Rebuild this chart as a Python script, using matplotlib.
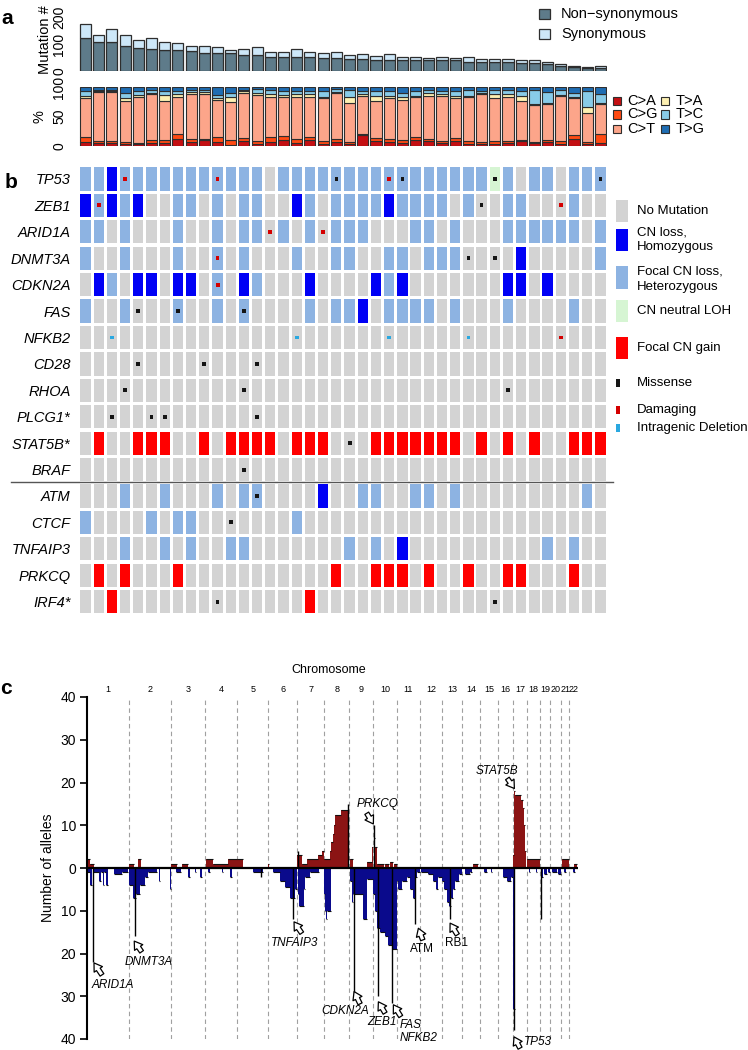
import matplotlib
matplotlib.use('Agg')
import matplotlib.pyplot as plt
from matplotlib.patches import Rectangle
from matplotlib.lines import Line2D
import numpy as np

plt.rcParams['font.family'] = ['Liberation Sans', 'DejaVu Sans']

# ---------------- DATA ----------------
# panel a: mutation counts per sample
nonsyn = [124, 106, 106, 92, 84, 82, 78, 77, 75, 68, 66, 65, 61, 58, 52, 52, 52, 51, 48, 48,
          46, 46, 41, 41, 39, 41, 41, 39, 39, 35, 35, 34, 34, 31, 29, 26, 20, 14, 11, 12]
syn = [50, 29, 48, 40, 32, 42, 29, 25, 19, 26, 23, 12, 21, 31, 18, 18, 28, 19, 18, 22,
       14, 16, 14, 21, 12, 10, 6, 14, 8, 18, 10, 9, 9, 10, 10, 9, 6, 6, 3, 5]

# panel a: substitution spectrum (%)
spec_labels = ['C>A', 'C>G', 'C>T', 'T>A', 'T>C', 'T>G']
pct_CA = [7, 5, 5, 3, 3, 5, 5, 12, 6, 10, 6, 1, 9, 4, 6, 10, 5, 10, 4, 7,
          3, 18, 8, 6, 5, 10, 8, 5, 8, 4, 4, 4, 5, 8, 5, 6, 3, 12, 3, 5]
pct_CG = [8, 4, 4, 3, 2, 5, 5, 9, 6, 2, 10, 9, 4, 5, 10, 7, 7, 6, 5, 5,
          3, 3, 6, 6, 5, 5, 4, 3, 5, 4, 2, 4, 3, 3, 1, 5, 6, 7, 4, 15]
pct_CT = [66, 83, 83, 71, 78, 78, 67, 63, 76, 76, 62, 65, 77, 78, 68, 66, 72, 67, 72, 78,
          67, 64, 62, 69, 69, 68, 74, 77, 68, 75, 82, 74, 76, 65, 64, 60, 76, 62, 50, 52]
pct_TA = [4, 2, 2, 5, 4, 2, 10, 4, 4, 4, 3, 8, 3, 3, 5, 4, 5, 5, 2, 2,
          10, 4, 10, 5, 4, 2, 4, 3, 4, 3, 3, 6, 4, 10, 1, 3, 2, 2, 10, 2]
pct_TC = [9, 2, 2, 9, 7, 5, 7, 5, 4, 4, 6, 7, 3, 7, 6, 7, 5, 6, 11, 5,
          12, 5, 7, 7, 8, 8, 6, 6, 9, 10, 3, 7, 7, 7, 25, 18, 9, 8, 27, 15]
pct_TG = [6, 4, 4, 9, 6, 5, 6, 7, 4, 4, 13, 10, 4, 3, 5, 6, 6, 6, 6, 3,
          5, 6, 7, 7, 9, 7, 4, 6, 6, 4, 6, 5, 5, 7, 4, 8, 4, 9, 6, 11]

# panel b: genes and alteration states
genes = ['TP53', 'ZEB1', 'ARID1A', 'DNMT3A', 'CDKN2A', 'FAS', 'NFKB2', 'CD28', 'RHOA',
         'PLCG1*', 'STAT5B*', 'BRAF', 'ATM', 'CTCF', 'TNFAIP3', 'PRKCQ', 'IRF4*']
# '.' no mutation, 'H' homozygous loss, 'h' heterozygous loss, 'L' CN neutral LOH, 'G' gain
cn_state = [
    "hhHhhhhhhhhhhh.hhhhhhhhhhhhhhhhLh.hh.hhh",   # TP53
    "HhHhH..hh.h.hh..Hh.hhhhHhhhh.h..hh...h..",   # ZEB1
    "hh.h...h..h.hh.h.h.hhh...hh.h...hhhhhh.h",   # ARID1A
    "h..h...h..h.h...h..hh..hh.hhh....H.....h",   # DNMT3A
    ".Hh.HH.HH.h.Hh...H....HhH.......HH.H....",   # CDKN2A
    "h..h...h..h.h....h.hhH.hhhh.h...h....h..",   # FAS
    "........................................",   # NFKB2
    "........................................",   # CD28
    "........................................",   # RHOA
    "........................................",   # PLCG1*
    ".G..GGG..G.GGGG.GGG...GGGGGGG.G.G.G..GGG",   # STAT5B*
    "........................................",   # BRAF
    "...h..h...h.hh....H..hh..hh.h.........h.",   # ATM
    "h....h.hh.......h.......................",   # CTCF
    "...h..h.h..hh.......h.h.H..........h.h..",   # TNFAIP3
    ".G.G...G...........G..GGG.G..G..GG...G..",   # PRKCQ
    "..G..............G......................",   # IRF4*
]
# mutation marks: 'm' missense, 'd' damaging, 'i' intragenic deletion
mut_state = {
    'TP53': {3: 'd', 10: 'd', 19: 'm', 23: 'd', 24: 'm', 31: 'm', 39: 'm'},
    'ZEB1': {1: 'd', 30: 'm', 36: 'd'},
    'ARID1A': {14: 'd', 18: 'd'},
    'DNMT3A': {10: 'd', 29: 'm', 31: 'm'},
    'CDKN2A': {10: 'd'},
    'FAS': {4: 'm', 7: 'm', 12: 'm'},
    'NFKB2': {2: 'i', 16: 'i', 23: 'i', 29: 'i', 36: 'd'},
    'CD28': {4: 'm', 9: 'm', 13: 'm'},
    'RHOA': {3: 'm', 12: 'm', 32: 'm'},
    'PLCG1*': {2: 'm', 5: 'm', 6: 'm', 13: 'm'},
    'STAT5B*': {20: 'm'},
    'BRAF': {12: 'm'},
    'ATM': {13: 'm'},
    'CTCF': {11: 'm'},
    'IRF4*': {10: 'm', 31: 'm'},
}

# panel c: chromosome lengths (Mb) and CN segments (chrom, start Mb, end Mb, alleles)
chrom_len = [249, 243, 198, 191, 181, 171, 159, 146, 141, 136, 135, 134, 115, 107, 103,
             90, 81, 78, 59, 63, 48, 51]
gain_segs = [
    (1, 0, 20, 2), (1, 20, 40, 1),
    (2, 0, 26, 1), (2, 52, 66, 2),
    (3, 0, 34, 1), (3, 63, 102, 1),
    (4, 8, 51, 2), (4, 51, 139, 1), (4, 139, 188, 2),
    (5, 0, 36, 2),
    (6, 0, 3, 1),
    (7, 0, 3, 3), (7, 5, 26, 3), (7, 26, 56, 1), (7, 56, 124, 2),
    (7, 124, 144, 3), (7, 144, 159, 4),
    (8, 0, 33, 2), (8, 33, 40, 4), (8, 40, 48, 6), (8, 48, 55, 8), (8, 55, 62, 10),
    (8, 62, 96, 12.5), (8, 96, 138, 13.5), (8, 141, 146, 2),
    (9, 3, 20, 2), (9, 102, 131, 1.5), (9, 131, 141, 5),
    (10, 3, 8, 7), (10, 8, 23, 5), (10, 23, 60, 1), (10, 70, 90, 1),
    (10, 100, 115, 1.5), (10, 120, 136, 1),
    (14, 67, 96, 1),
    (17, 0, 3, 3), (17, 3, 8, 18), (17, 8, 48, 17), (17, 48, 55, 16), (17, 55, 62, 14),
    (17, 62, 68, 10), (17, 68, 75, 4),
    (18, 0, 78, 2),
    (21, 5, 45, 2),
    (22, 26, 45, 1),
]
loss_segs = [
    (1, 0, 15, 1), (1, 15, 30, 4), (1, 34, 72, 1), (1, 72, 84, 3), (1, 84, 92, 1),
    (1, 92, 102, 4), (1, 102, 112, 1), (1, 112, 125, 4), (1, 160, 205, 1.5), (1, 205, 240, 1),
    (2, 0, 22, 4), (2, 22, 41, 7), (2, 41, 61, 6), (2, 61, 91, 4), (2, 91, 110, 2),
    (2, 110, 159, 1), (2, 175, 180, 3), (2, 238, 243, 5),
    (3, 30, 60, 1), (3, 100, 110, 2), (3, 140, 150, 1), (3, 170, 180, 2),
    (4, 20, 30, 1), (4, 100, 110, 1), (4, 150, 160, 2),
    (5, 94, 152, 1),
    (6, 30, 70, 1), (6, 70, 100, 3), (6, 100, 129, 4.5), (6, 129, 158, 7), (6, 158, 171, 5),
    (7, 3, 10, 6), (7, 10, 40, 9), (7, 40, 46, 5), (7, 46, 75, 2), (7, 75, 130, 1),
    (8, 0, 4, 6), (8, 4, 12, 10), (8, 12, 16, 12), (8, 16, 37, 10),
    (9, 3, 15, 3), (9, 15, 24, 8), (9, 24, 83, 6), (9, 83, 102, 12), (9, 102, 141, 2.5),
    (10, 0, 10, 6), (10, 10, 20, 10), (10, 20, 40, 14), (10, 40, 68, 15), (10, 68, 88, 16),
    (10, 88, 108, 18), (10, 108, 136, 19),
    (11, 0, 10, 3), (11, 10, 30, 5), (11, 30, 60, 3), (11, 60, 80, 2), (11, 80, 95, 5),
    (11, 95, 106, 7), (11, 106, 108, 7), (11, 108, 120, 2), (11, 120, 135, 1),
    (12, 10, 50, 1), (12, 50, 80, 1.5), (12, 80, 95, 3), (12, 95, 108, 5), (12, 108, 130, 2),
    (13, 0, 10, 3), (13, 10, 25, 5), (13, 25, 40, 8), (13, 40, 48, 9), (13, 48, 60, 7),
    (13, 60, 75, 5), (13, 75, 95, 3), (13, 95, 115, 1.5),
    (14, 18, 45, 1.5), (14, 45, 60, 1),
    (15, 20, 40, 1), (15, 60, 70, 1),
    (16, 30, 55, 2), (16, 55, 80, 3), (16, 80, 90, 2),
    (17, 0, 8, 33), (17, 8, 12, 3),
    (18, 10, 20, 1), (18, 50, 60, 1),
    (19, 5, 15, 2), (19, 20, 40, 1.5), (19, 45, 59, 1),
    (20, 10, 40, 1), (20, 45, 60, 1.5),
    (21, 15, 30, 1),
    (22, 20, 35, 1),
]
# focal peaks drawn as thin lines: (chrom, Mb, alleles; negative = loss)
spikes = [
    (7, 4, 4), (8, 140, 15), (10, 1.5, 10),
    (1, 33, -22), (2, 31, -16), (5, 141, -2), (6, 144, -12), (9, 28, -30),
    (10, 30, -30), (10, 108, -31.5), (11, 107, -13), (13, 47, -12), (17, 6, -38),
    (19, 2, -12),
]
# annotated genes: label, chrom, Mb, tip value, tail offset px, label offset px, ha, italic
annots = [
    ("ARID1A", 1, 41, -22.2, (8, -12), (19, -22), 'center', True),
    ("DNMT3A", 2, 28, -17.1, (7.4, -10.7), (14.7, -21), 'center', True),
    ("TNFAIP3", 6, 152, -12.6, (7.7, -11.3), (1, -21.3), 'center', True),
    ("CDKN2A", 9, 28, -28.9, (6, -12.3), (-9, -19.3), 'center', True),
    ("ZEB1", 10, 29.5, -31.3, (6.7, -11.3), (3.4, -20), 'center', True),
    ("FAS\nNFKB2", 10, 117.5, -32.0, (7.4, -11.7), (6.7, -26.5), 'left', True),
    ("ATM", 11, 128, -14.1, (4.4, -11.7), (3.4, -20.7), 'center', False),
    ("RB1", 13, 45, -12.9, (7.3, -11.7), (6.7, -20), 'center', False),
    ("TP53", 17, 5, -39.5, (6, -11.3), (10, -5), 'left', True),
    ("STAT5B", 17, 7, 18.6, (-7, 10), (-17.6, 17.6), 'center', True),
    ("PRKCQ", 10, 0, 10.3, (-6.6, 10.7), (4.7, 20), 'center', True),
]

# ---------------- FIGURE ----------------
W, H = 748, 1050
fig = plt.figure(figsize=(W / 100, H / 100), dpi=100)


def ax_px(x0, y0, x1, y1):
    return fig.add_axes([x0 / W, 1 - y1 / H, (x1 - x0) / W, (y1 - y0) / H])


def fx(x):
    return x / W


def fy(y):
    return 1 - y / H


n = len(nonsyn)
xs = np.arange(n)
edge = '#2e2e2e'
c_non = '#5e7b8a'
c_syn = '#cde7f8'

# ---- panel a top ----
ax1 = ax_px(78.9, 17, 607, 71)
ax1.bar(xs, nonsyn, width=0.84, color=c_non, edgecolor=edge, linewidth=0.9)
ax1.bar(xs, syn, bottom=nonsyn, width=0.84, color=c_syn, edgecolor=edge, linewidth=0.9)
ax1.set_xlim(-0.5, n - 0.5)
ax1.set_ylim(0, 200)
ax1.set_yticks([0, 100, 200])
ax1.set_yticklabels(['0', '100', '200'], rotation=90, va='center', fontsize=10)
ax1.tick_params(axis='y', length=0, pad=9)
ax1.set_xticks([])
for s in ax1.spines.values():
    s.set_visible(False)
ax1.patch.set_alpha(0)
fig.text(fx(45), fy(40), 'Mutation #', rotation=90, ha='center', va='center', fontsize=10.5)

# legend a
for lab, col, yy in [('Non\u2212synonymous', c_non, 14), ('Synonymous', c_syn, 34)]:
    fig.patches.append(Rectangle((fx(538.5), fy(yy + 5)), 11 / W, 10 / H, facecolor=col,
                                 edgecolor=edge, linewidth=0.9, transform=fig.transFigure))
    fig.text(fx(561), fy(yy), lab, ha='left', va='center', fontsize=10.5)

# ---- panel a bottom ----
ax2 = ax_px(78.9, 87.3, 607, 146)
spec = [pct_CA, pct_CG, pct_CT, pct_TA, pct_TC, pct_TG]
spec_cols = ['#c40f12', '#ff4a12', '#fca58a', '#fdf0b2', '#88cbe8', '#1f6db3']
bottom = np.zeros(n)
for vals, col in zip(spec, spec_cols):
    ax2.bar(xs, vals, bottom=bottom, width=0.84, color=col, edgecolor=edge, linewidth=0.8)
    bottom = bottom + np.array(vals)
ax2.set_xlim(-0.5, n - 0.5)
ax2.set_ylim(0, 100)
ax2.set_yticks([0, 50, 100])
ax2.set_yticklabels(['0', '50', '100'], rotation=90, va='center', fontsize=10)
ax2.tick_params(axis='y', length=0, pad=9)
ax2.set_xticks([])
for s in ax2.spines.values():
    s.set_visible(False)
ax2.patch.set_alpha(0)
fig.text(fx(40), fy(117), '%', rotation=90, ha='center', va='center', fontsize=10.5)

leg_pos = [(613, 100.7), (613, 114.5), (613, 129.3), (661, 100.7), (661, 114.5), (661, 129.3)]
for lab, col, (px, py) in zip(spec_labels, spec_cols, leg_pos):
    fig.patches.append(Rectangle((fx(px), fy(py + 4)), 7.5 / W, 8 / H, facecolor=col,
                                 edgecolor=edge, linewidth=0.8, transform=fig.transFigure))
    fig.text(fx(px + 14.5), fy(py), lab, ha='left', va='center', fontsize=10.5)

# ---- panel b ----
axb = ax_px(78.9, 165.7, 607, 614.9)
state_col = {'.': '#d3d3d3', 'H': '#0000f5', 'h': '#8db3e2', 'L': '#d6f5d3', 'G': '#ff0000'}
mut_col = {'m': '#151515', 'd': '#d40000', 'i': '#2aa8e0'}
for r, g in enumerate(genes):
    st = cn_state[r]
    assert len(st) == n
    axb.bar(xs, [0.88] * n, bottom=r - 0.44, width=0.78,
            color=[state_col[c] for c in st], linewidth=0)
    marks = mut_state.get(g, {})
    if marks:
        mx = list(marks.keys())
        axb.scatter(mx, [r] * len(mx), marker='s', s=7,
                    c=[mut_col[marks[k]] for k in mx], linewidths=0, zorder=3)
axb.set_xlim(-0.5, n - 0.5)
axb.set_ylim(len(genes) - 0.5, -0.5)
axb.set_yticks(range(len(genes)))
axb.set_yticklabels(genes, fontstyle='italic', fontsize=10.5)
axb.tick_params(axis='y', length=0, pad=6)
axb.set_xticks([])
for s in axb.spines.values():
    s.set_visible(False)
axb.patch.set_alpha(0)
fig.lines.append(Line2D([fx(11), fx(613)], [fy(482), fy(482)], color='#555555',
                        linewidth=1.0, transform=fig.transFigure))

# legend b
leg_b = [
    (state_col['.'], 200, 22, [(211, 'No Mutation')]),
    (state_col['H'], 229, 22, [(232, 'CN loss,'), (247, 'Homozygous')]),
    (state_col['h'], 266, 23, [(272, 'Focal CN loss,'), (287, 'Heterozygous')]),
    (state_col['L'], 300, 22, [(311, 'CN neutral LOH')]),
    (state_col['G'], 337, 22, [(348, 'Focal CN gain')]),
]
for col, top, hgt, texts in leg_b:
    fig.patches.append(Rectangle((fx(616), fy(top + hgt)), 12 / W, hgt / H, facecolor=col,
                                 edgecolor='none', transform=fig.transFigure))
    for ty, tt in texts:
        fig.text(fx(637), fy(ty), tt, ha='left', va='center', fontsize=9.5)
for ty, col, tt in [(383, mut_col['m'], 'Missense'), (409.5, mut_col['d'], 'Damaging'),
                    (428, mut_col['i'], 'Intragenic Deletion')]:
    fig.patches.append(Rectangle((fx(616), fy(ty + 4)), 4 / W, 8 / H, facecolor=col,
                                 edgecolor='none', transform=fig.transFigure))
    fig.text(fx(637), fy(ty), tt, ha='left', va='center', fontsize=9.5)

# ---- panel c ----
axc = ax_px(87, 697, 578, 1039)
cum = np.concatenate([[0], np.cumsum(chrom_len)])
c_gain = '#8b1414'
c_loss = '#0a0a8c'
for segs, col, sign in [(gain_segs, c_gain, 1), (loss_segs, c_loss, -1)]:
    x0 = np.array([cum[c - 1] + s for c, s, e, v in segs])
    x1 = np.array([cum[c - 1] + e for c, s, e, v in segs])
    hv = np.array([sign * v for c, s, e, v in segs])
    axc.bar(x0, hv, width=x1 - x0, align='edge', color=col, linewidth=0, antialiased=False)
    axc.hlines(hv, x0, x1, colors='#111111', linewidth=0.8, zorder=2.5)
sx = [cum[c - 1] + mb for c, mb, v in spikes]
sv = [v for c, mb, v in spikes]
axc.vlines(sx, 0, sv, colors='black', linewidth=1.0, zorder=3)
for b in cum[1:-1]:
    axc.axvline(b, color='#a0a0a0', linestyle=(0, (4, 3)), linewidth=0.8, zorder=0)
axc.axhline(0, color='black', linewidth=1.6, zorder=4)
axc.set_xlim(0, cum[-1])
axc.set_ylim(-40, 40)
yt = [40, 30, 20, 10, 0, -10, -20, -30, -40]
axc.set_yticks(yt)
axc.set_yticklabels([str(abs(t)) for t in yt], fontsize=10)
axc.tick_params(axis='y', direction='out', length=5, width=1.2, pad=3)
axc.set_xticks([])
for k in ['top', 'right', 'bottom']:
    axc.spines[k].set_visible(False)
axc.spines['left'].set_linewidth(1.5)
axc.patch.set_alpha(0)
for i in range(len(chrom_len)):
    axc.text((cum[i] + cum[i + 1]) / 2, 1.008, str(i + 1), transform=axc.get_xaxis_transform(),
             ha='center', va='bottom', fontsize=6.5)
fig.text(fx(329), fy(670), 'Chromosome', ha='center', va='center', fontsize=9)
fig.text(fx(48), fy(868), 'Number of alleles', rotation=90, ha='center', va='center', fontsize=10)

for lab, c, mb, val, tail, loff, ha, ital in annots:
    xy = (cum[c - 1] + mb, val)
    axc.annotate('', xy=xy, xytext=tail, textcoords='offset pixels',
                 arrowprops=dict(arrowstyle='simple,head_width=0.9,head_length=0.7,tail_width=0.4',
                                 fc='white', ec='black', lw=0.9, shrinkA=0, shrinkB=0,
                                 mutation_scale=8))
    axc.annotate(lab, xy=xy, xytext=loff, textcoords='offset pixels', ha=ha, va='center',
                 fontsize=8.5, fontstyle='italic' if ital else 'normal', linespacing=1.1,
                 annotation_clip=False)

# panel letters
fig.text(fx(7), fy(18), 'a', fontsize=15, fontweight='bold', ha='center', va='center')
fig.text(fx(11), fy(183), 'b', fontsize=15, fontweight='bold', ha='center', va='center')
fig.text(fx(6), fy(688), 'c', fontsize=15, fontweight='bold', ha='center', va='center')

fig.savefig('out.png', dpi=100)
